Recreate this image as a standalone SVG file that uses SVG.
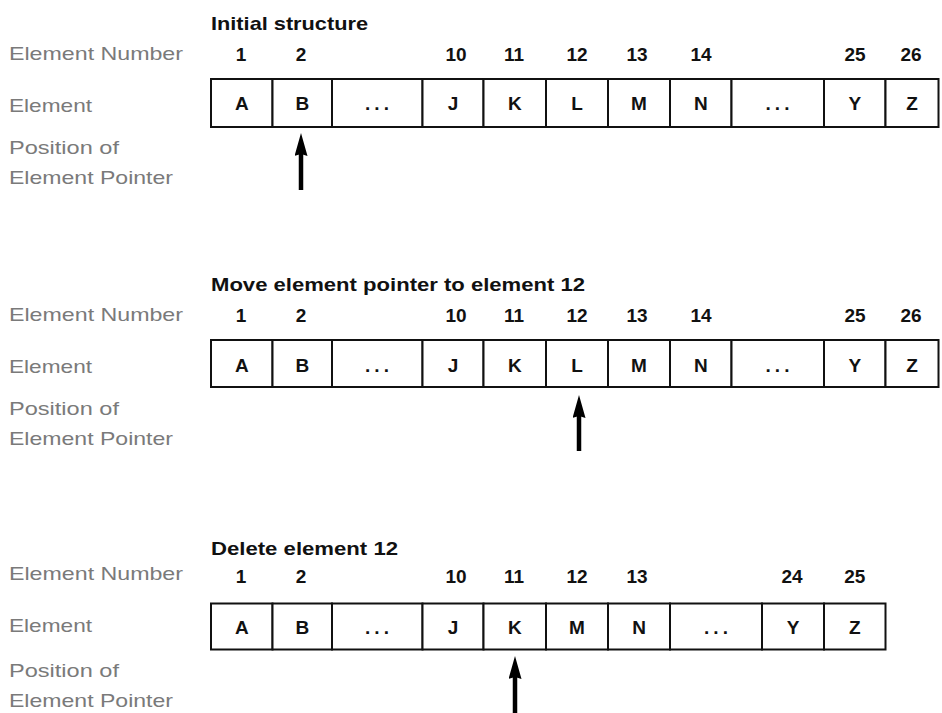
<svg xmlns="http://www.w3.org/2000/svg" width="942" height="713" viewBox="0 0 942 713">
<style>
.lbl{font-family:"Liberation Sans",Arial,sans-serif;font-size:19px;fill:#7a7a7a}
.ttl{font-family:"Liberation Sans",Arial,sans-serif;font-size:19px;font-weight:bold;fill:#111}
.num{font-family:"Liberation Sans",Arial,sans-serif;font-size:19px;font-weight:bold;fill:#111;text-anchor:middle}
.let{font-family:"Liberation Sans",Arial,sans-serif;font-size:19px;font-weight:bold;fill:#111;text-anchor:middle}
.dots{letter-spacing:4px}
.cell{fill:#fff;stroke:#111;stroke-width:2}
.ptr{stroke:#000;stroke-width:4.5;marker-end:url(#ah)}
</style>
<defs>
<marker id="ah" markerUnits="userSpaceOnUse" viewBox="0 0 23 13" markerWidth="23" markerHeight="13" refX="2" refY="6.5" orient="auto">
<path d="M0,0 L23,6.5 L0,13 L2,6.5 z" fill="#000"/>
</marker>
</defs>
<rect width="942" height="713" fill="#fff"/>

<!-- Section 1 -->
<g id="labels1">
<text class="ttl" x="211" y="29.5" textLength="157" lengthAdjust="spacingAndGlyphs">Initial structure</text>
<text class="lbl" x="9" y="60" textLength="174" lengthAdjust="spacingAndGlyphs">Element Number</text>
<text class="lbl" x="9" y="112" textLength="83" lengthAdjust="spacingAndGlyphs">Element</text>
<text class="lbl" x="9" y="154" textLength="110" lengthAdjust="spacingAndGlyphs">Position of</text>
<text class="lbl" x="9" y="184" textLength="164" lengthAdjust="spacingAndGlyphs">Element Pointer</text>
</g>
<g id="s1-e1"><rect class="cell" x="211" y="79" width="61.5" height="48"/><text class="num" x="241" y="61">1</text><text class="let" x="241.75" y="110">A</text></g>
<g id="s1-e2"><rect class="cell" x="272.5" y="79" width="59.5" height="48"/><text class="num" x="301" y="61">2</text><text class="let" x="302.25" y="110">B</text></g>
<g id="s1-gap1"><rect class="cell" x="332" y="79" width="90.5" height="48"/><text class="let dots" x="379" y="110">...</text></g>
<g id="s1-e10"><rect class="cell" x="422.5" y="79" width="61" height="48"/><text class="num" x="456" y="61">10</text><text class="let" x="453" y="110">J</text></g>
<g id="s1-e11"><rect class="cell" x="483.5" y="79" width="62.5" height="48"/><text class="num" x="514" y="61">11</text><text class="let" x="514.75" y="110">K</text></g>
<g id="s1-e12"><rect class="cell" x="546" y="79" width="62" height="48"/><text class="num" x="577" y="61">12</text><text class="let" x="577" y="110">L</text></g>
<g id="s1-e13"><rect class="cell" x="608" y="79" width="62" height="48"/><text class="num" x="637" y="61">13</text><text class="let" x="639" y="110">M</text></g>
<g id="s1-e14"><rect class="cell" x="670" y="79" width="61.5" height="48"/><text class="num" x="701" y="61">14</text><text class="let" x="700.75" y="110">N</text></g>
<g id="s1-gap2"><rect class="cell" x="731.5" y="79" width="92.5" height="48"/><text class="let dots" x="779.5" y="110">...</text></g>
<g id="s1-e25"><rect class="cell" x="824" y="79" width="61.5" height="48"/><text class="num" x="855" y="61">25</text><text class="let" x="854.75" y="110">Y</text></g>
<g id="s1-e26"><rect class="cell" x="885.5" y="79" width="53" height="48"/><text class="num" x="911" y="61">26</text><text class="let" x="912" y="110">Z</text></g>

<!-- Section 2 -->
<g id="labels2">
<text class="ttl" x="211" y="291" textLength="374" lengthAdjust="spacingAndGlyphs">Move element pointer to element 12</text>
<text class="lbl" x="9" y="321" textLength="174" lengthAdjust="spacingAndGlyphs">Element Number</text>
<text class="lbl" x="9" y="373" textLength="83" lengthAdjust="spacingAndGlyphs">Element</text>
<text class="lbl" x="9" y="415" textLength="110" lengthAdjust="spacingAndGlyphs">Position of</text>
<text class="lbl" x="9" y="445" textLength="164" lengthAdjust="spacingAndGlyphs">Element Pointer</text>
</g>
<g id="s2-e1"><rect class="cell" x="211" y="340" width="61.5" height="47"/><text class="num" x="241" y="321.5">1</text><text class="let" x="241.75" y="371.5">A</text></g>
<g id="s2-e2"><rect class="cell" x="272.5" y="340" width="59.5" height="47"/><text class="num" x="301" y="321.5">2</text><text class="let" x="302.25" y="371.5">B</text></g>
<g id="s2-gap1"><rect class="cell" x="332" y="340" width="90.5" height="47"/><text class="let dots" x="379" y="371.5">...</text></g>
<g id="s2-e10"><rect class="cell" x="422.5" y="340" width="61" height="47"/><text class="num" x="456" y="321.5">10</text><text class="let" x="453" y="371.5">J</text></g>
<g id="s2-e11"><rect class="cell" x="483.5" y="340" width="62.5" height="47"/><text class="num" x="514" y="321.5">11</text><text class="let" x="514.75" y="371.5">K</text></g>
<g id="s2-e12"><rect class="cell" x="546" y="340" width="62" height="47"/><text class="num" x="577" y="321.5">12</text><text class="let" x="577" y="371.5">L</text></g>
<g id="s2-e13"><rect class="cell" x="608" y="340" width="62" height="47"/><text class="num" x="637" y="321.5">13</text><text class="let" x="639" y="371.5">M</text></g>
<g id="s2-e14"><rect class="cell" x="670" y="340" width="61.5" height="47"/><text class="num" x="701" y="321.5">14</text><text class="let" x="700.75" y="371.5">N</text></g>
<g id="s2-gap2"><rect class="cell" x="731.5" y="340" width="92.5" height="47"/><text class="let dots" x="779.5" y="371.5">...</text></g>
<g id="s2-e25"><rect class="cell" x="824" y="340" width="61.5" height="47"/><text class="num" x="855" y="321.5">25</text><text class="let" x="854.75" y="371.5">Y</text></g>
<g id="s2-e26"><rect class="cell" x="885.5" y="340" width="53" height="47"/><text class="num" x="911" y="321.5">26</text><text class="let" x="912" y="371.5">Z</text></g>

<!-- Section 3 -->
<g id="labels3">
<text class="ttl" x="211" y="555" textLength="187" lengthAdjust="spacingAndGlyphs">Delete element 12</text>
<text class="lbl" x="9" y="580" textLength="174" lengthAdjust="spacingAndGlyphs">Element Number</text>
<text class="lbl" x="9" y="632" textLength="83" lengthAdjust="spacingAndGlyphs">Element</text>
<text class="lbl" x="9" y="677" textLength="110" lengthAdjust="spacingAndGlyphs">Position of</text>
<text class="lbl" x="9" y="707" textLength="164" lengthAdjust="spacingAndGlyphs">Element Pointer</text>
</g>
<g id="s3-e1"><rect class="cell" x="211" y="603.5" width="61.5" height="46"/><text class="num" x="241" y="583">1</text><text class="let" x="241.75" y="634">A</text></g>
<g id="s3-e2"><rect class="cell" x="272.5" y="603.5" width="59.5" height="46"/><text class="num" x="301" y="583">2</text><text class="let" x="302.25" y="634">B</text></g>
<g id="s3-gap1"><rect class="cell" x="332" y="603.5" width="90.5" height="46"/><text class="let dots" x="379" y="634">...</text></g>
<g id="s3-e10"><rect class="cell" x="422.5" y="603.5" width="61" height="46"/><text class="num" x="456" y="583">10</text><text class="let" x="453" y="634">J</text></g>
<g id="s3-e11"><rect class="cell" x="483.5" y="603.5" width="62.5" height="46"/><text class="num" x="514" y="583">11</text><text class="let" x="514.75" y="634">K</text></g>
<g id="s3-e12"><rect class="cell" x="546" y="603.5" width="62" height="46"/><text class="num" x="577" y="583">12</text><text class="let" x="577" y="634">M</text></g>
<g id="s3-e13"><rect class="cell" x="608" y="603.5" width="62" height="46"/><text class="num" x="637" y="583">13</text><text class="let" x="639" y="634">N</text></g>
<g id="s3-gap2"><rect class="cell" x="670" y="603.5" width="92" height="46"/><text class="let dots" x="718" y="634">...</text></g>
<g id="s3-e24"><rect class="cell" x="762" y="603.5" width="62" height="46"/><text class="num" x="792" y="583">24</text><text class="let" x="793" y="634">Y</text></g>
<g id="s3-e25"><rect class="cell" x="824" y="603.5" width="61.5" height="46"/><text class="num" x="854.75" y="583">25</text><text class="let" x="854.75" y="634">Z</text></g>

<g id="connectors">
<line class="ptr" x1="301" y1="190" x2="301" y2="154"/>
<line class="ptr" x1="579" y1="451" x2="579" y2="416"/>
<line class="ptr" x1="515" y1="713" x2="515" y2="677"/>
</g>
</svg>
